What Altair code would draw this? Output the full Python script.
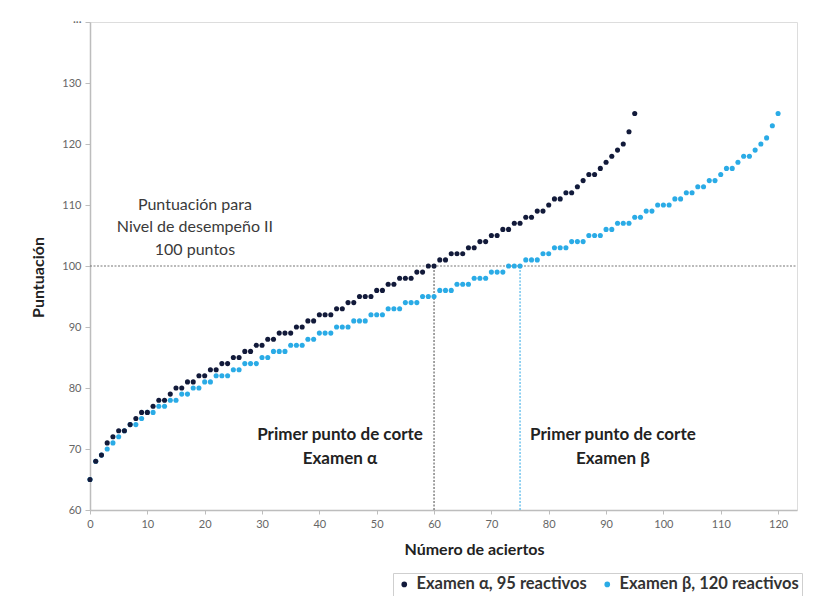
import altair as alt
import pandas as pd

# ---- data ----
alpha_x = list(range(0, 96))
alpha_y = [65, 68, 69, 71, 72, 73, 73, 74, 75, 76,
           76, 77, 78, 78, 79, 80, 80, 81, 81, 82,
           82, 83, 83, 84, 84, 85, 85, 86, 86, 87,
           87, 88, 88, 89, 89, 89, 90, 90, 91, 91,
           92, 92, 92, 93, 93, 94, 94, 95, 95, 95,
           96, 96, 97, 97, 98, 98, 98, 99, 99, 100,
           100, 101, 101, 102, 102, 102, 103, 103, 104, 104,
           105, 105, 106, 106, 107, 107, 108, 108, 109, 109,
           110, 111, 111, 112, 112, 113, 114, 115, 115, 116,
           117, 118, 119, 120, 122, 125]

beta_x = list(range(0, 121))
beta_y = [65, 68, 69, 70, 71, 72, 73, 74, 74, 75,
          76, 76, 77, 77, 78, 78, 79, 79, 80, 80,
          81, 81, 82, 82, 82, 83, 83, 84, 84, 84,
          85, 85, 86, 86, 86, 87, 87, 87, 88, 88,
          89, 89, 89, 90, 90, 90, 91, 91, 91, 92,
          92, 92, 93, 93, 93, 94, 94, 94, 95, 95,
          95, 96, 96, 96, 97, 97, 97, 98, 98, 98,
          99, 99, 99, 100, 100, 100, 101, 101, 101, 102,
          102, 103, 103, 103, 104, 104, 104, 105, 105, 105,
          106, 106, 107, 107, 107, 108, 108, 109, 109, 110,
          110, 110, 111, 111, 112, 112, 113, 113, 114, 114,
          115, 116, 116, 117, 118, 118, 119, 120, 121, 123,
          125]

series_names = ["Examen α, 95 reactivos", "Examen β, 120 reactivos"]
series_colors = ["#121a3a", "#2aabe6"]

cut_alpha = 60
cut_beta = 75
level_score = 100

y_ticks = [60, 70, 80, 90, 100, 110, 120, 130, 140]
x_ticks = list(range(0, 121, 5))

note_text = ["Puntuación para", "Nivel de desempeño II", "100 puntos"]
note_x = [18.3, 18.3, 18.3]
note_y = [110.0, 106.4, 102.6]

cut_text = ["Primer punto de corte", "Examen α", "Primer punto de corte", "Examen β"]
cut_x = [43.6, 43.6, 91.2, 91.2]
cut_y = [72.3, 68.4, 72.3, 68.4]

# ---- build tables ----
pts = pd.concat([
    pd.DataFrame({"x": beta_x, "y": beta_y, "serie": series_names[1], "ord": 0}),
    pd.DataFrame({"x": alpha_x, "y": alpha_y, "serie": series_names[0], "ord": 1}),
], ignore_index=True)

W, H = 707, 488
XMAX = 123.3
xscale = alt.Scale(domain=[0, XMAX], nice=False, zero=False)
yscale = alt.Scale(domain=[60, 140], nice=False, zero=False)

FONT = "Lato"

points = alt.Chart(pts).mark_point(filled=True, shape="circle", size=26, opacity=1).encode(
    x=alt.X("x:Q", scale=xscale,
            axis=alt.Axis(title="Número de aciertos", values=x_ticks, grid=False,
                          domainColor="#bdbdbd", domainWidth=1.5, tickColor="#bdbdbd",
                          tickSize=4, labelColor="#666666", labelFontSize=11,
                          labelFont=FONT, labelPadding=4, titleFont=FONT,
                          titleFontSize=16, titleFontWeight="bold", titleColor="#222222",
                          titlePadding=12, titleX=384, labelFlush=False)),
    y=alt.Y("y:Q", scale=yscale,
            axis=alt.Axis(title="Puntuación", values=y_ticks, grid=False,
                          domainColor="#bdbdbd", domainWidth=1.5, tickColor="#bdbdbd",
                          tickSize=5, labelColor="#666666", labelFontSize=11,
                          labelFont=FONT, labelPadding=4, titleFont=FONT,
                          titleFontSize=16, titleFontWeight="bold", titleColor="#222222",
                          titlePadding=15, titleY=255,
                          labelExpr="datum.value == 140 ? '···' : datum.label")),
    color=alt.Color("serie:N",
                    scale=alt.Scale(domain=series_names, range=series_colors),
                    legend=alt.Legend(title=None, orient="none", direction="horizontal",
                                      legendX=303, legendY=551, symbolType="circle",
                                      symbolSize=32, symbolStrokeWidth=0,
                                      labelFont=FONT, labelFontSize=16.5,
                                      labelFontWeight="bold", labelColor="#333333",
                                      columnPadding=12, padding=3, strokeColor="#cfcfcf",
                                      fillColor="white", labelLimit=400)),
    order=alt.Order("ord:Q"),
)

hline = alt.Chart(pd.DataFrame({"y": [level_score], "x": [0], "x2": [XMAX]})).mark_rule(
    color="#777777", strokeDash=[2, 1.5], strokeWidth=1.2
).encode(x=alt.X("x:Q", scale=xscale), x2="x2:Q", y=alt.Y("y:Q", scale=yscale))

vlines = alt.Chart(pd.DataFrame({
    "x": [cut_alpha, cut_beta], "y": [60, 60], "y2": [level_score, level_score],
    "c": ["#666666", "#4fb6ea"]})).mark_rule(strokeDash=[2, 1.5], strokeWidth=1.2).encode(
    x=alt.X("x:Q", scale=xscale), y=alt.Y("y:Q", scale=yscale), y2="y2:Q",
    color=alt.Color("c:N", scale=None))

note = alt.Chart(pd.DataFrame({"x": note_x, "y": note_y, "t": note_text})).mark_text(
    font=FONT, fontSize=16, color="#3a3a3a", align="center", baseline="middle"
).encode(x=alt.X("x:Q", scale=xscale), y=alt.Y("y:Q", scale=yscale), text="t:N")

cuts = alt.Chart(pd.DataFrame({"x": cut_x, "y": cut_y, "t": cut_text})).mark_text(
    font=FONT, fontSize=17, fontWeight="bold", color="#222222", align="center",
    baseline="middle"
).encode(x=alt.X("x:Q", scale=xscale), y=alt.Y("y:Q", scale=yscale), text="t:N")

chart = alt.layer(hline, vlines, points, note, cuts).properties(
    width=W, height=H,
    autosize=alt.AutoSizeParams(type="none"),
    padding={"left": 82, "top": 14, "right": 14, "bottom": 86},
).configure_view(strokeWidth=0, stroke="transparent").configure(background="white")

chart.save("out.html", embed_options={"renderer": "svg", "actions": False})
